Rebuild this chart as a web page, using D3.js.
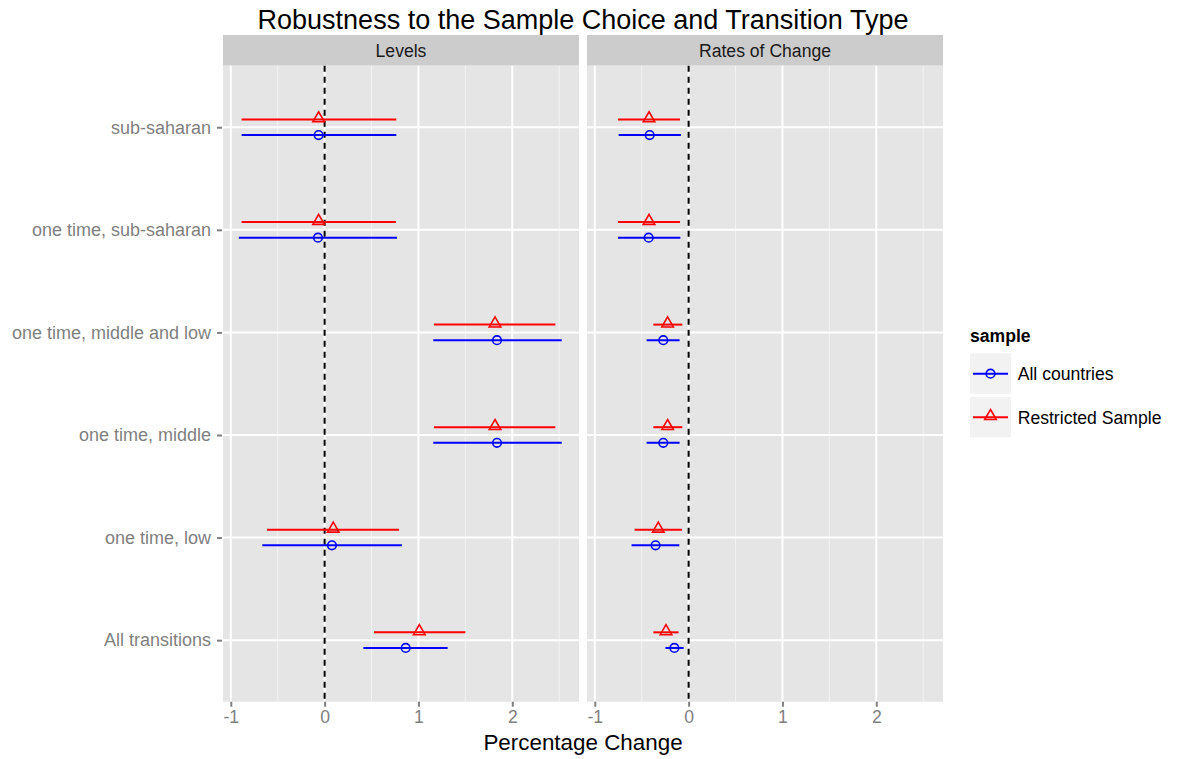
<!DOCTYPE html>
<html>
<head>
<meta charset="utf-8">
<script src="https://cdn.jsdelivr.net/npm/d3@7"></script>
<style>
  body { margin: 0; background: #fff; }
  text { font-family: "Liberation Sans", Arial, Helvetica, sans-serif; }
</style>
</head>
<body>
<svg id="chart" width="1181" height="759"></svg>
<script>
// categories, top to bottom
var categories = ["sub-saharan", "one time, sub-saharan", "one time, middle and low",
                  "one time, middle", "one time, low", "All transitions"];
var panels = ["Levels", "Rates of Change"];
var samples = ["All countries", "Restricted Sample"];
var xTicks = [-1, 0, 1, 2];

// estimates with lower / upper bounds, one array per panel and sample
var levelsAll = [
  {est: -0.064, lo: -0.885, hi: 0.764},
  {est: -0.071, lo: -0.914, hi: 0.771},
  {est: 1.837, lo: 1.158, hi: 2.527},
  {est: 1.837, lo: 1.158, hi: 2.527},
  {est: 0.078, lo: -0.664, hi: 0.824},
  {est: 0.864, lo: 0.413, hi: 1.311}
];
var levelsRestricted = [
  {est: -0.064, lo: -0.885, hi: 0.764},
  {est: -0.064, lo: -0.885, hi: 0.760},
  {est: 1.816, lo: 1.165, hi: 2.459},
  {est: 1.816, lo: 1.165, hi: 2.459},
  {est: 0.092, lo: -0.615, hi: 0.792},
  {est: 1.009, lo: 0.526, hi: 1.500}
];
var ratesAll = [
  {est: -0.415, lo: -0.746, hi: -0.081},
  {est: -0.426, lo: -0.753, hi: -0.088},
  {est: -0.270, lo: -0.448, hi: -0.096},
  {est: -0.270, lo: -0.448, hi: -0.096},
  {est: -0.352, lo: -0.608, hi: -0.099},
  {est: -0.152, lo: -0.248, hi: -0.053}
];
var ratesRestricted = [
  {est: -0.422, lo: -0.753, hi: -0.092},
  {est: -0.422, lo: -0.753, hi: -0.092},
  {est: -0.224, lo: -0.376, hi: -0.067},
  {est: -0.224, lo: -0.376, hi: -0.067},
  {est: -0.323, lo: -0.576, hi: -0.071},
  {est: -0.241, lo: -0.376, hi: -0.107}
];

var seriesByPanel = {
  "Levels": [levelsAll, levelsRestricted],
  "Rates of Change": [ratesAll, ratesRestricted]
};
var colors = {"All countries": "#0000ff", "Restricted Sample": "#ff0000"};
var dodge = {"All countries": 7.8, "Restricted Sample": -7.8};

var svg = d3.select("#chart");
var panelLeft = [223, 587], panelW = 356;
var plotTop = 65.7, plotBottom = 701.7, stripH = 30.7;

var y = d3.scalePoint().domain(categories).range([plotTop, plotBottom]).padding(0.6);

svg.append("text")
  .attr("x", 583).attr("y", 29)
  .attr("text-anchor", "middle")
  .style("font-size", "27px").style("fill", "#000")
  .text("Robustness to the Sample Choice and Transition Type");

panels.forEach(function(p, pi) {
  var x0 = panelLeft[pi];
  var x = d3.scaleLinear().domain([-1.083, 2.711]).range([x0, x0 + panelW]);
  var g = svg.append("g");

  // strip
  g.append("rect").attr("x", x0).attr("y", plotTop - stripH)
    .attr("width", panelW).attr("height", stripH).attr("fill", "#cccccc");
  g.append("text").attr("x", x0 + panelW / 2).attr("y", plotTop - 8.5)
    .attr("text-anchor", "middle").style("font-size", "17.6px").style("fill", "#1a1a1a")
    .text(p);

  // panel background and grid
  g.append("rect").attr("x", x0).attr("y", plotTop)
    .attr("width", panelW).attr("height", plotBottom - plotTop).attr("fill", "#e5e5e5");
  g.selectAll(".minor").data([-0.5, 0.5, 1.5, 2.5]).enter().append("line")
    .attr("x1", function(d) { return x(d); }).attr("x2", function(d) { return x(d); })
    .attr("y1", plotTop).attr("y2", plotBottom)
    .attr("stroke", "#f2f2f2").attr("stroke-width", 1);
  g.selectAll(".majorx").data(xTicks).enter().append("line")
    .attr("x1", function(d) { return x(d); }).attr("x2", function(d) { return x(d); })
    .attr("y1", plotTop).attr("y2", plotBottom)
    .attr("stroke", "#fff").attr("stroke-width", 2);
  g.selectAll(".majory").data(categories).enter().append("line")
    .attr("x1", x0).attr("x2", x0 + panelW)
    .attr("y1", function(d) { return y(d); }).attr("y2", function(d) { return y(d); })
    .attr("stroke", "#fff").attr("stroke-width", 2);

  // dashed reference at zero
  g.append("line").attr("x1", x(0)).attr("x2", x(0))
    .attr("y1", plotTop).attr("y2", plotBottom)
    .attr("stroke", "#000").attr("stroke-width", 2).attr("stroke-dasharray", "6,5");

  // x axis
  var ax = d3.axisBottom(x).tickValues(xTicks).tickSize(5).tickPadding(4)
    .tickFormat(d3.format("d"));
  var axg = svg.append("g").attr("transform", "translate(0," + plotBottom + ")").call(ax);
  axg.select(".domain").remove();
  axg.selectAll("line").attr("stroke", "#7f7f7f").attr("stroke-width", 2);
  axg.selectAll("text").style("font-size", "17.6px").attr("fill", "#7f7f7f")
    .attr("font-family", null).text(function(d) { return d < 0 ? "-" + Math.abs(d) : d; });

  // error bars and points
  seriesByPanel[p].forEach(function(vals, si) {
    var s = samples[si];
    var col = colors[s];
    var sg = g.append("g");
    sg.selectAll("line.bar").data(vals).enter().append("line")
      .attr("x1", function(d) { return x(d.lo); }).attr("x2", function(d) { return x(d.hi); })
      .attr("y1", function(d, i) { return y(categories[i]) + dodge[s]; })
      .attr("y2", function(d, i) { return y(categories[i]) + dodge[s]; })
      .attr("stroke", col).attr("stroke-width", 2);
    if (s === "All countries") {
      sg.selectAll("circle").data(vals).enter().append("circle")
        .attr("cx", function(d) { return x(d.est); })
        .attr("cy", function(d, i) { return y(categories[i]) + dodge[s]; })
        .attr("r", 4.3).attr("fill", "none").attr("stroke", col).attr("stroke-width", 1.6);
    } else {
      sg.selectAll("path").data(vals).enter().append("path")
        .attr("d", d3.symbol().type(d3.symbolTriangle).size(58))
        .attr("transform", function(d, i) {
          return "translate(" + x(d.est) + "," + (y(categories[i]) + dodge[s] - 1) + ")";
        })
        .attr("fill", "none").attr("stroke", col).attr("stroke-width", 1.6);
    }
  });
});

// y axis on the left panel
var ay = d3.axisLeft(y).tickSize(5).tickPadding(6);
var ayg = svg.append("g").attr("transform", "translate(" + (panelLeft[0] - 1) + ",0)").call(ay);
ayg.select(".domain").remove();
ayg.selectAll("line").attr("stroke", "#7f7f7f").attr("stroke-width", 2);
ayg.selectAll("text").style("font-size", "18px").attr("fill", "#7f7f7f")
  .attr("font-family", null);

svg.append("text").attr("x", 583).attr("y", 750)
  .attr("text-anchor", "middle").style("font-size", "22.4px").style("fill", "#000")
  .text("Percentage Change");

// legend
var lg = svg.append("g").attr("transform", "translate(970,0)");
lg.append("text").attr("x", 0).attr("y", 341.7)
  .style("font-size", "17.6px").style("font-weight", "bold").text("sample");
samples.forEach(function(s, i) {
  var ky = 353.3 + i * 43.5;
  var cy = ky + 20.4;
  lg.append("rect").attr("x", 0).attr("y", ky).attr("width", 41).attr("height", 40.6)
    .attr("fill", "#f2f2f2");
  lg.append("line").attr("x1", 3).attr("x2", 38).attr("y1", cy).attr("y2", cy)
    .attr("stroke", colors[s]).attr("stroke-width", 2);
  if (i === 0) {
    lg.append("circle").attr("cx", 20.5).attr("cy", cy).attr("r", 4.3)
      .attr("fill", "none").attr("stroke", colors[s]).attr("stroke-width", 1.6);
  } else {
    lg.append("path").attr("d", d3.symbol().type(d3.symbolTriangle).size(58))
      .attr("transform", "translate(20.5," + (cy - 1) + ")")
      .attr("fill", "none").attr("stroke", colors[s]).attr("stroke-width", 1.6);
  }
  lg.append("text").attr("x", 47.7).attr("y", cy + 6.3)
    .style("font-size", "17.6px").style("fill", "#000").text(s);
});
</script>
</body>
</html>
